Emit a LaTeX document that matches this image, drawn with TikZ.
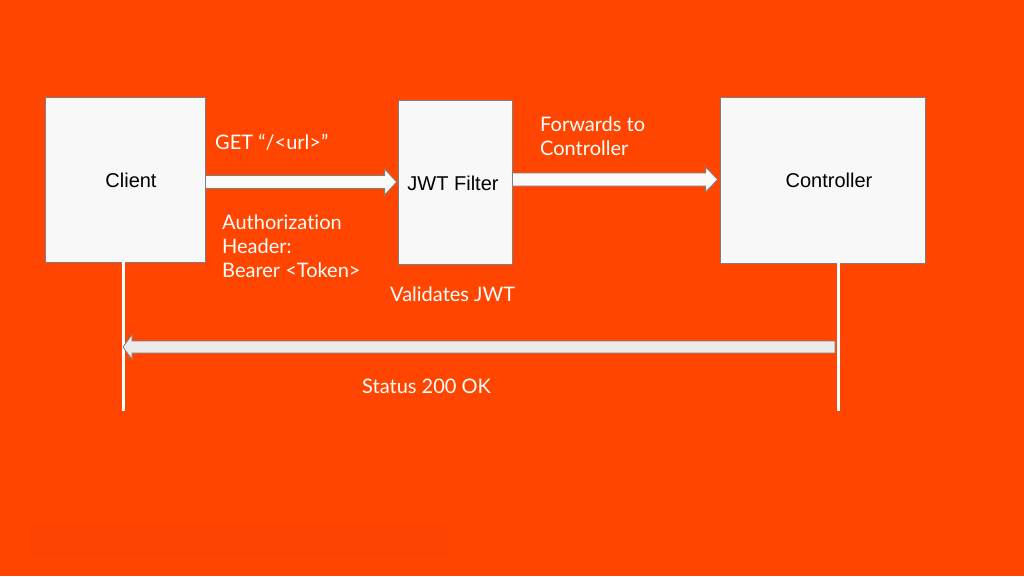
\documentclass[tikz,border=0pt]{standalone}
\usepackage{fontspec}
\setmainfont[Ligatures={NoCommon}]{Lato}
\newfontfamily\arialfont{Liberation Sans}
\usetikzlibrary{calc}
\definecolor{bg}{HTML}{FF4500}
\definecolor{boxfill}{HTML}{F8F8F8}
\definecolor{boxline}{HTML}{7F7F7F}
\definecolor{arrfill}{HTML}{FAFAFA}
\definecolor{arrfillb}{HTML}{EBEBEB}
\tikzset{
  box/.style={draw=boxline, fill=boxfill, line width=0.8pt, inner sep=0pt},
  boxlabel/.style={font=\arialfont\fontsize{20}{22}\selectfont, text=black, inner sep=0pt},
  wlabel/.style={font=\fontsize{20}{24}\selectfont, text=white, align=left, anchor=west, inner sep=0pt},
  blockarr/.style={draw=boxline, line width=0.8pt, fill=arrfill, line join=miter},
  lifeline/.style={draw=white, line width=3pt},
}
\begin{document}
\begin{tikzpicture}[x=1pt, y=-1pt]
  \fill[bg] (0,0) rectangle (1024,576);
  \useasboundingbox (0,0) rectangle (1024,576);
  % faint toolbar
  \fill[black, opacity=0.012, rounded corners=3pt] (30,525) rectangle (447,558);

  % boxes
  \node[box, minimum width=160pt, minimum height=165pt] (client) at (125,179.5) {};
  \node[box, minimum width=114pt, minimum height=164pt] (jwt) at (455,182) {};
  \node[box, minimum width=205pt, minimum height=166pt] (ctrl) at (822.5,180) {};
  \node[boxlabel] (clientlbl) at (131,180) {Client};
  \node[boxlabel] (jwtlbl) at (453,183) {JWT Filter};
  \node[boxlabel] (ctrllbl) at (829,180) {Controller};

  % lifelines
  \coordinate (cl) at ($(client.south)+(-2,0)$);
  \coordinate (cr) at ($(ctrl.south)+(15.5,0)$);
  \coordinate (clend) at (cl |- 0,411);
  \coordinate (crend) at (cr |- 0,411);
  \draw[lifeline] (cl) -- (clend);
  \draw[lifeline] (cr) -- (crend);

  % arrow 1: client -> jwt
  \draw[blockarr] let \p1=($(client.east)+(0,2.5)$), \p2=(jwt.west) in
    (\x1,\y1+6.5pt) -- (\x2-13pt,\y1+6.5pt) -- (\x2-13pt,\y1+13pt) -- (\x2-1pt,\y1)
    -- (\x2-13pt,\y1-13pt) -- (\x2-13pt,\y1-6.5pt) -- (\x1,\y1-6.5pt) -- cycle;
  % arrow 2: jwt -> controller
  \draw[blockarr] let \p1=($(jwt.east)+(0,-2.5)$), \p2=(ctrl.west) in
    (\x1,\y1+6.5pt) -- (\x2-14pt,\y1+6.5pt) -- (\x2-14pt,\y1+12.5pt) -- (\x2-2pt,\y1)
    -- (\x2-14pt,\y1-12.5pt) -- (\x2-14pt,\y1-6.5pt) -- (\x1,\y1-6.5pt) -- cycle;
  % arrow 3: controller lifeline -> client lifeline
  \coordinate (r3s) at ($(cr |- 0,347)+(-3,0)$);
  \coordinate (r3e) at ($(cl |- 0,347)+(0,0)$);
  \draw[blockarr, fill=arrfillb] let \p1=(r3s), \p2=(r3e) in
    (\x1,\y1+6pt) -- (\x2+9pt,\y1+6pt) -- (\x2+9pt,\y1+12.5pt) -- (\x2,\y1)
    -- (\x2+9pt,\y1-12.5pt) -- (\x2+9pt,\y1-6pt) -- (\x1,\y1-6pt) -- cycle;

  % labels
  \node[wlabel] (get) at (215,142) {GET “/<url>”};
  \node[wlabel] (auth) at (222,246) {Authorization\\Header:\\Bearer <Token>};
  \node[wlabel] (fwd) at (540,136.5) {Forwards to\\Controller};
  \node[wlabel] (val) at (390,294) {Validates JWT};
  \node[wlabel] (ok) at (362,386) {Status 200 OK};
\end{tikzpicture}
\end{document}
